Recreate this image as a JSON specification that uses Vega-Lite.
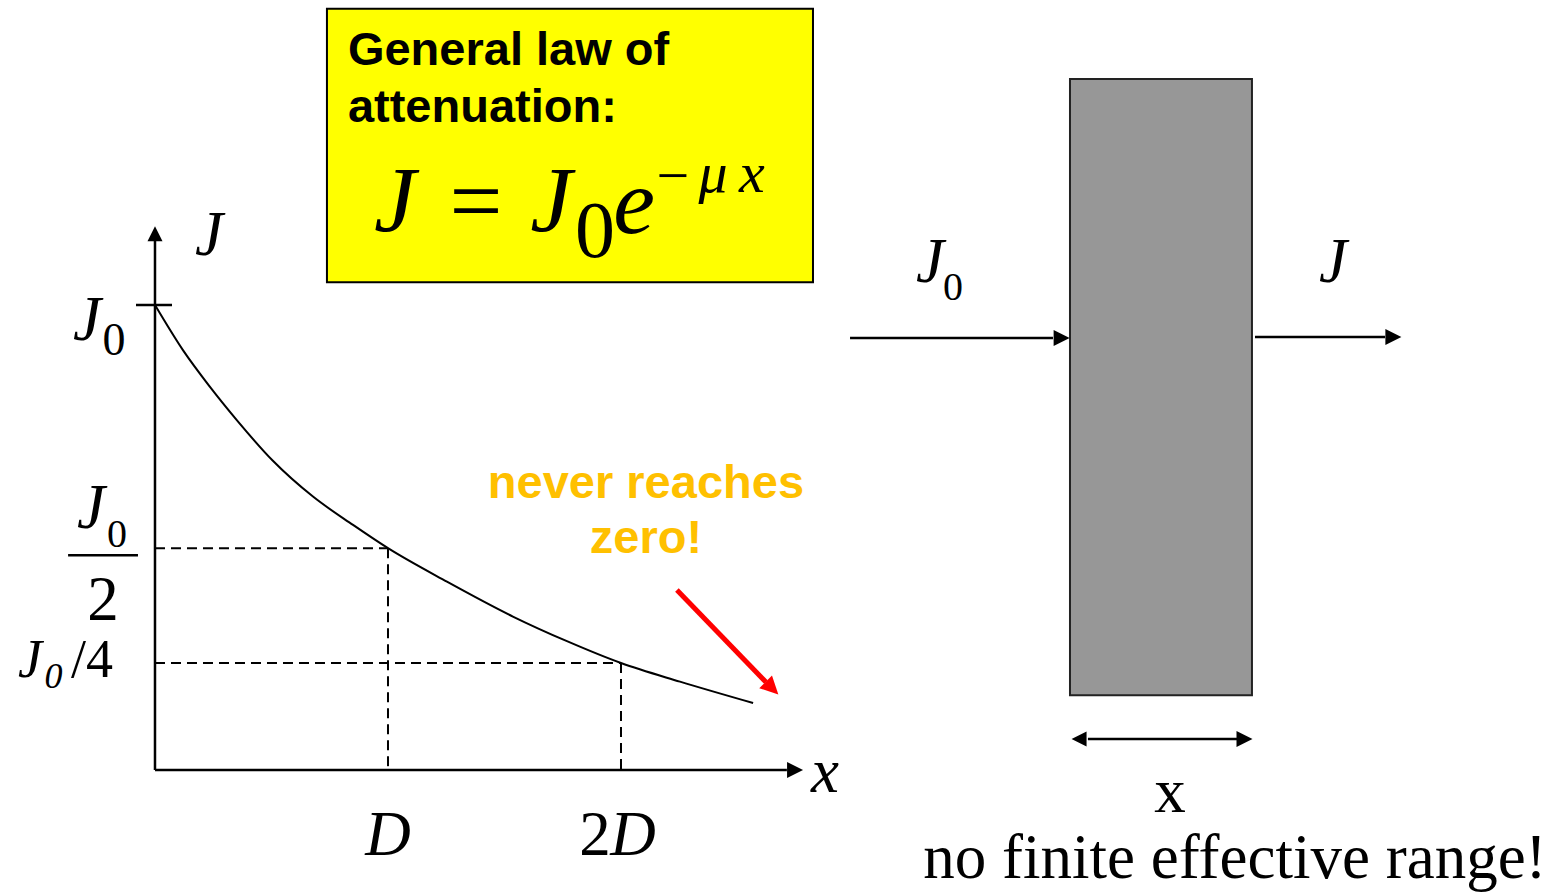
{
  "$schema": "https://vega.github.io/schema/vega-lite/v6.json",
  "width": 1555,
  "height": 893,
  "padding": 0,
  "autosize": {"type": "fit", "contains": "padding"},
  "background": "white",
  "config": {"view": {"stroke": null}},
  "datasets": {
    "box": [{"x": 0.738, "x2": 2.824, "y": 1.637, "y2": 1.049}],
    "slab": [{"x": 3.927, "x2": 4.708, "y": 1.486, "y2": 0.161}],
    "solid": [
      {"x": 0, "y": 0, "x2": 0, "y2": 1.138},
      {"x": 0, "y": 0, "x2": 2.712, "y2": 0},
      {"x": -0.0815, "y": 1, "x2": 0.073, "y2": 1},
      {"x": 2.983, "y": 0.929, "x2": 3.854, "y2": 0.929},
      {"x": 4.721, "y": 0.931, "x2": 5.279, "y2": 0.931},
      {"x": 4.004, "y": 0.0667, "x2": 4.644, "y2": 0.0667},
      {"x": -0.373, "y": 0.462, "x2": -0.073, "y2": 0.462}
    ],
    "dashed": [
      {"x": 0, "y": 0.477, "x2": 1, "y2": 0.477},
      {"x": 1, "y": 0.477, "x2": 1, "y2": 0},
      {"x": 0, "y": 0.23, "x2": 2, "y2": 0.23},
      {"x": 2, "y": 0.23, "x2": 2, "y2": 0}
    ],
    "curve": [
      {"x": 0, "y": 1.0},
      {"x": 0.12, "y": 0.903},
      {"x": 0.236, "y": 0.824},
      {"x": 0.352, "y": 0.752},
      {"x": 0.506, "y": 0.665},
      {"x": 0.678, "y": 0.588},
      {"x": 0.85, "y": 0.527},
      {"x": 1.0, "y": 0.477},
      {"x": 1.253, "y": 0.405},
      {"x": 1.536, "y": 0.33},
      {"x": 1.768, "y": 0.277},
      {"x": 2.0, "y": 0.23},
      {"x": 2.253, "y": 0.19},
      {"x": 2.567, "y": 0.144}
    ],
    "red": [{"x": 2.24, "y": 0.387, "x2": 2.622, "y2": 0.189}],
    "headsRight": [
      {"x": 2.747, "y": 0},
      {"x": 3.891, "y": 0.929},
      {"x": 5.315, "y": 0.931},
      {"x": 4.676, "y": 0.0667}
    ],
    "headsUp": [{"x": 0, "y": 1.153}],
    "headsLeft": [{"x": 3.966, "y": 0.0667}],
    "headRed": [{"x": 2.648, "y": 0.176}],
    "italic63": [
      {"x": 0.232, "y": 1.108, "t": "J"},
      {"x": -0.292, "y": 0.925, "t": "J"},
      {"x": -0.275, "y": 0.52, "t": "J"},
      {"x": 1.0, "y": -0.183, "t": "D"},
      {"x": 2.052, "y": -0.183, "t": "D"},
      {"x": 2.876, "y": -0.047, "t": "x"},
      {"x": 3.326, "y": 1.049, "t": "J"},
      {"x": 5.056, "y": 1.049, "t": "J"}
    ],
    "regular63": [
      {"x": -0.223, "y": 0.3226, "t": "2"},
      {"x": 1.888, "y": -0.183, "t": "2"},
      {"x": 4.356, "y": -0.0903, "t": "x"},
      {"x": 4.635, "y": -0.2323, "t": "no finite effective range!"}
    ],
    "sub46": [{"x": -0.176, "y": 0.892, "t": "0"}],
    "sub40": [
      {"x": -0.163, "y": 0.4796, "t": "0"},
      {"x": 3.425, "y": 1.011, "t": "0"}
    ],
    "italic54": [{"x": -0.536, "y": 0.2, "t": "J"}],
    "italic36": [{"x": -0.436, "y": 0.176, "t": "0"}],
    "regular54": [{"x": -0.27, "y": 0.2, "t": "/4"}],
    "fItalic": [
      {"x": 1.03, "y": 1.159, "t": "J"},
      {"x": 1.7, "y": 1.159, "t": "J"},
      {"x": 2.056, "y": 1.155, "t": "e"}
    ],
    "fRegular": [{"x": 1.378, "y": 1.157, "t": "="}],
    "fSub": [{"x": 1.888, "y": 1.103, "t": "0"}],
    "supRegular": [{"x": 2.223, "y": 1.237, "t": "−"}],
    "supItalic": [
      {"x": 2.395, "y": 1.243, "t": "μ"},
      {"x": 2.562, "y": 1.243, "t": "x"}
    ],
    "boxText": [
      {"x": 0.828, "y": 1.516, "t": "General law of"},
      {"x": 0.828, "y": 1.394, "t": "attenuation:"}
    ],
    "orange": [
      {"x": 2.107, "y": 0.585, "t": "never reaches"},
      {"x": 2.107, "y": 0.467, "t": "zero!"}
    ]
  },
  "encoding": {
    "x": {"field": "x", "type": "quantitative", "scale": {"domain": [-0.6652, 6.0086], "nice": false, "zero": false}, "axis": null},
    "y": {"field": "y", "type": "quantitative", "scale": {"domain": [-0.26452, 1.6559], "nice": false, "zero": false}, "axis": null}
  },
  "layer": [
    {"data": {"name": "box"}, "mark": {"type": "rect", "fill": "#FFFF00", "stroke": "#000000", "strokeWidth": 2},
     "encoding": {"x2": {"field": "x2"}, "y2": {"field": "y2"}}},
    {"data": {"name": "slab"}, "mark": {"type": "rect", "fill": "#979797", "stroke": "#222222", "strokeWidth": 2},
     "encoding": {"x2": {"field": "x2"}, "y2": {"field": "y2"}}},
    {"data": {"name": "solid"}, "mark": {"type": "rule", "color": "#000000", "strokeWidth": 2.5},
     "encoding": {"x2": {"field": "x2"}, "y2": {"field": "y2"}}},
    {"data": {"name": "dashed"}, "mark": {"type": "rule", "color": "#000000", "strokeWidth": 2, "strokeDash": [10, 6]},
     "encoding": {"x2": {"field": "x2"}, "y2": {"field": "y2"}}},
    {"data": {"name": "curve"}, "mark": {"type": "line", "color": "#000000", "strokeWidth": 2, "interpolate": "monotone"}, "encoding": {}},
    {"data": {"name": "red"}, "mark": {"type": "rule", "color": "#FF0000", "strokeWidth": 5},
     "encoding": {"x2": {"field": "x2"}, "y2": {"field": "y2"}}},
    {"data": {"name": "headsRight"}, "mark": {"type": "point", "shape": "M-1,-1L1,0L-1,1Z", "size": 256, "filled": true, "color": "#000000", "opacity": 1, "angle": 0}, "encoding": {}},
    {"data": {"name": "headsUp"}, "mark": {"type": "point", "shape": "M-1,-1L1,0L-1,1Z", "size": 225, "filled": true, "color": "#000000", "opacity": 1, "angle": 270}, "encoding": {}},
    {"data": {"name": "headsLeft"}, "mark": {"type": "point", "shape": "M-1,-1L1,0L-1,1Z", "size": 225, "filled": true, "color": "#000000", "opacity": 1, "angle": 180}, "encoding": {}},
    {"data": {"name": "headRed"}, "mark": {"type": "point", "shape": "M-1,-1L1,0L-1,1Z", "size": 324, "filled": true, "color": "#FF0000", "opacity": 1, "angle": 45}, "encoding": {}},
    {"data": {"name": "italic63"}, "mark": {"type": "text", "font": "Liberation Serif", "fontStyle": "italic", "fontSize": 63, "align": "center", "baseline": "alphabetic", "color": "#000000"}, "encoding": {"text": {"field": "t"}}},
    {"data": {"name": "regular63"}, "mark": {"type": "text", "font": "Liberation Serif", "fontSize": 63, "align": "center", "baseline": "alphabetic", "color": "#000000"}, "encoding": {"text": {"field": "t"}}},
    {"data": {"name": "sub46"}, "mark": {"type": "text", "font": "Liberation Serif", "fontSize": 46, "align": "center", "baseline": "alphabetic", "color": "#000000"}, "encoding": {"text": {"field": "t"}}},
    {"data": {"name": "sub40"}, "mark": {"type": "text", "font": "Liberation Serif", "fontSize": 40, "align": "center", "baseline": "alphabetic", "color": "#000000"}, "encoding": {"text": {"field": "t"}}},
    {"data": {"name": "italic54"}, "mark": {"type": "text", "font": "Liberation Serif", "fontStyle": "italic", "fontSize": 54, "align": "center", "baseline": "alphabetic", "color": "#000000"}, "encoding": {"text": {"field": "t"}}},
    {"data": {"name": "italic36"}, "mark": {"type": "text", "font": "Liberation Serif", "fontStyle": "italic", "fontSize": 36, "align": "center", "baseline": "alphabetic", "color": "#000000"}, "encoding": {"text": {"field": "t"}}},
    {"data": {"name": "regular54"}, "mark": {"type": "text", "font": "Liberation Serif", "fontSize": 54, "align": "center", "baseline": "alphabetic", "color": "#000000"}, "encoding": {"text": {"field": "t"}}},
    {"data": {"name": "fItalic"}, "mark": {"type": "text", "font": "Liberation Serif", "fontStyle": "italic", "fontSize": 94, "align": "center", "baseline": "alphabetic", "color": "#000000"}, "encoding": {"text": {"field": "t"}}},
    {"data": {"name": "fRegular"}, "mark": {"type": "text", "font": "Liberation Serif", "fontSize": 94, "align": "center", "baseline": "alphabetic", "color": "#000000"}, "encoding": {"text": {"field": "t"}}},
    {"data": {"name": "fSub"}, "mark": {"type": "text", "font": "Liberation Serif", "fontSize": 80, "align": "center", "baseline": "alphabetic", "color": "#000000"}, "encoding": {"text": {"field": "t"}}},
    {"data": {"name": "supRegular"}, "mark": {"type": "text", "font": "Liberation Serif", "fontSize": 58, "align": "center", "baseline": "alphabetic", "color": "#000000"}, "encoding": {"text": {"field": "t"}}},
    {"data": {"name": "supItalic"}, "mark": {"type": "text", "font": "Liberation Serif", "fontStyle": "italic", "fontSize": 58, "align": "center", "baseline": "alphabetic", "color": "#000000"}, "encoding": {"text": {"field": "t"}}},
    {"data": {"name": "boxText"}, "mark": {"type": "text", "font": "Liberation Sans", "fontWeight": "bold", "fontSize": 47, "align": "left", "baseline": "alphabetic", "color": "#000000"}, "encoding": {"text": {"field": "t"}}},
    {"data": {"name": "orange"}, "mark": {"type": "text", "font": "Liberation Sans", "fontWeight": "bold", "fontSize": 47, "align": "center", "baseline": "alphabetic", "color": "#FFC000"}, "encoding": {"text": {"field": "t"}}}
  ]
}
